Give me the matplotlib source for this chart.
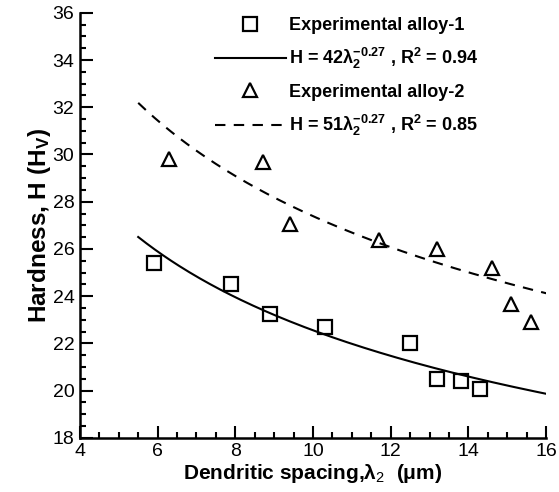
import numpy as np
import matplotlib
matplotlib.use("Agg")
import matplotlib.pyplot as plt
from matplotlib.ticker import MultipleLocator
from matplotlib.lines import Line2D

plt.rcParams["font.family"] = ["Liberation Sans", "DejaVu Sans"]
plt.rcParams["mathtext.fontset"] = "custom"
plt.rcParams["mathtext.rm"] = "Liberation Sans"
plt.rcParams["mathtext.it"] = "Liberation Sans"
plt.rcParams["mathtext.bf"] = "Liberation Sans:bold"

# alloy-1 (squares)
lam1 = [5.9, 7.9, 8.9, 10.3, 12.5, 13.2, 13.8, 14.3]
hv1 = [25.4, 24.5, 23.25, 22.7, 22.0, 20.5, 20.4, 20.05]
# alloy-2 (triangles)
lam2 = [6.3, 8.7, 9.4, 11.7, 13.2, 14.6, 15.1, 15.6]
hv2 = [29.8, 29.7, 27.05, 26.4, 26.0, 25.2, 23.65, 22.9]

# power-law fits H = a * lambda^b
fit1 = (42, -0.27)
fit2 = (51, -0.27)
fit_range = (5.5, 16.0)

lbl_pts1 = "Experimental alloy-1"
lbl_fit1 = r"H = 42λ$_\mathbf{2}^{\mathbf{-0.27}}$ , R$^\mathbf{2}$ = 0.94"
lbl_pts2 = "Experimental alloy-2"
lbl_fit2 = r"H = 51λ$_\mathbf{2}^{\mathbf{-0.27}}$ , R$^\mathbf{2}$ = 0.85"

fig = plt.figure(figsize=(5.59, 4.92), dpi=100)
ax = fig.add_axes([0.143, 0.11, 0.834, 0.864])

xs = np.linspace(*fit_range, 200)
ax.plot(xs, fit1[0] * xs ** fit1[1], color="black", lw=1.5)
ax.plot(xs, fit2[0] * xs ** fit2[1], color="black", lw=1.5, ls=(0, (5, 4)))
ax.plot(lam1, hv1, ls="none", marker="s", ms=9.5, mfc="none", mec="black", mew=1.6)
ax.plot(lam2, hv2, ls="none", marker="^", ms=10.5, mfc="none", mec="black", mew=1.6)

ax.set_xlim(4, 16)
ax.set_ylim(18, 36)
ax.xaxis.set_major_locator(MultipleLocator(2))
ax.xaxis.set_minor_locator(MultipleLocator(0.5))
ax.yaxis.set_major_locator(MultipleLocator(2))
ax.yaxis.set_minor_locator(MultipleLocator(0.5))
ax.tick_params(which="both", direction="in", width=1.5, labelsize=14)
ax.tick_params(which="major", length=9, pad=4)
ax.tick_params(which="minor", length=4.5)
for s in ("top", "right"):
    ax.spines[s].set_visible(False)
for s in ("left", "bottom"):
    ax.spines[s].set_linewidth(1.8)

ax.set_xlabel(r"Dendritic spacing,λ$_2$  (μm)", fontsize=15, fontweight="bold", labelpad=1)
ax.set_ylabel(r"Hardness, H (H$_\mathbf{V}$)", fontsize=17.5, fontweight="bold", labelpad=0)

handles = [
    Line2D([], [], ls="none", marker="s", ms=9.5, mfc="none", mec="black", mew=1.6),
    Line2D([], [], color="black", lw=1.5),
    Line2D([], [], ls="none", marker="^", ms=10.5, mfc="none", mec="black", mew=1.6),
    Line2D([], [], color="black", lw=1.5, ls=(0, (5, 4))),
]
leg = ax.legend(handles, [lbl_pts1, lbl_fit1, lbl_pts2, lbl_fit2],
                loc="upper left", bbox_to_anchor=(0.29, 0.99), frameon=False,
                borderpad=0, borderaxespad=0, handlelength=3.9, handletextpad=0.2,
                labelspacing=0.68, prop={"weight": "bold", "size": 13})

fig.savefig("out.png", dpi=100)
